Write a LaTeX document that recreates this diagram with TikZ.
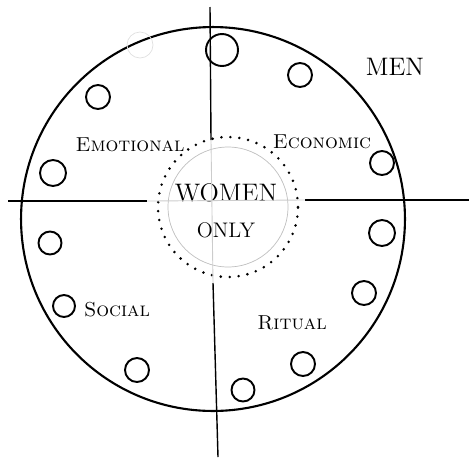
\documentclass[tikz,border=0pt]{standalone}
\usepackage{tikz}

\tikzset{
  seat/.style={draw,circle,line width=1.1pt,inner sep=0pt,minimum size=0.48cm},
  tag/.style={font=\fontsize{11.5}{14}\selectfont\scshape,inner sep=1pt}
}

\begin{document}
\begin{tikzpicture}[x=0.02cm,y=-0.02cm]
  \useasboundingbox (0,0) rectangle (469,457);

  % Draw outer circle (men)
  \node[draw,circle,line width=1.2pt,minimum size=7.68cm,inner sep=0pt] (ring) at (213,219) {};
  \node[font=\Large] (men) at (395,67) {MEN};

  % Draw inner circle (women only)
  \node[draw=black!25,circle,minimum size=2.4cm,inner sep=0pt] (core) at (228,207) {};
  \node[draw,circle,minimum size=2.8cm,inner sep=0pt,line width=1.6pt,line cap=round,
        dash pattern=on 0pt off 5.1pt] (women) at (228,207) {};
  \node[font=\Large] (wlabel) at (226,193) {WOMEN};
  \node[font=\large] (olabel) at (226,230) {ONLY};

  % Draw axes
  \coordinate (axN) at (210,7);
  \coordinate (axNi) at (211,140);
  \coordinate (axSi) at (213,283);
  \coordinate (axS) at (218,457);
  \coordinate (axW) at (8,201);
  \coordinate (axWi) at (147,201);
  \coordinate (axEi) at (305,200);
  \coordinate (axE) at (469,200);
  \draw[line width=0.8pt] (axN) -- (axNi);
  \draw[line width=0.8pt] (axSi) -- (axS);
  \draw[line width=0.8pt] (axW) -- (axWi);
  \draw[line width=0.8pt] (axEi) -- (axE);
  \draw[black!20,line width=0.5pt] (axNi) -- (axSi);
  \draw[black!20,line width=0.5pt] (axWi) -- (axEi);

  % Draw quadrant labels
  \node[tag] (emo) at (130,145) {Emotional};
  \node[tag] (eco) at (322,142) {Economic};
  \node[tag] (soc) at (117,310) {Social};
  \node[tag] (rit) at (292,323) {Ritual};

  % Draw men around the ring
  \node[draw=black!12,circle,minimum size=0.52cm,inner sep=0pt] (ghost) at (140,45) {};
  \node[seat,minimum size=0.64cm] (m1) at (222,50) {};
  \node[seat] (m2) at (300,75) {};
  \node[seat] (m3) at (98,97) {};
  \node[seat] (m4) at (382,163) {};
  \node[seat,minimum size=0.52cm] (m5) at (53,173) {};
  \node[seat,minimum size=0.52cm] (m6) at (382,233) {};
  \node[seat,minimum size=0.46cm] (m7) at (50,243) {};
  \node[seat] (m8) at (364,293) {};
  \node[seat,minimum size=0.44cm] (m9) at (64,306) {};
  \node[seat] (m10) at (303,364) {};
  \node[seat] (m11) at (137,370) {};
  \node[seat,minimum size=0.46cm] (m12) at (243,390) {};
\end{tikzpicture}
\end{document}
